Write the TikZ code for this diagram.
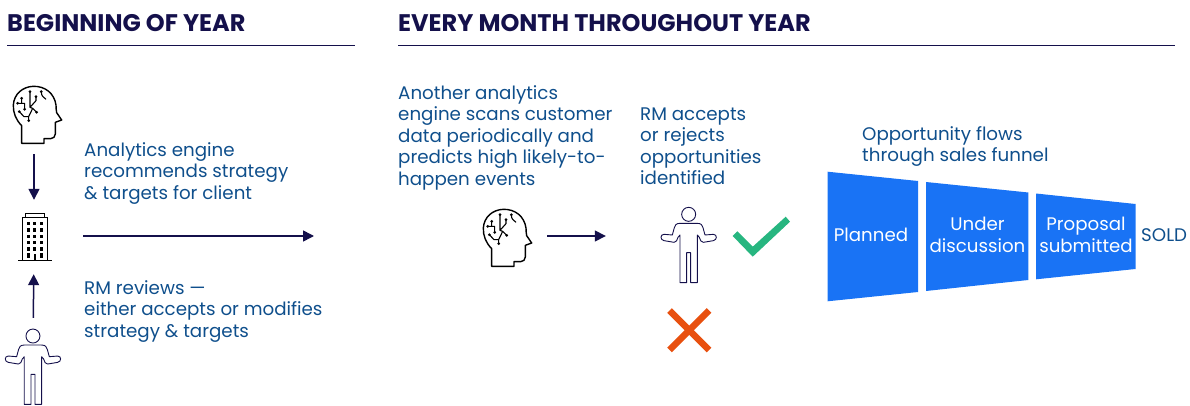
\documentclass[tikz,border=0pt]{standalone}
\usepackage{fontspec}
\setmainfont{Poppins}
\usetikzlibrary{arrows.meta}
\definecolor{navy}{HTML}{14104B}
\definecolor{bodyblue}{HTML}{0F4F8C}
\definecolor{funnelblue}{HTML}{1973F5}
\definecolor{okgreen}{HTML}{27B680}
\definecolor{noorange}{HTML}{E8500F}
\tikzset{
  x=1pt,y=-1pt,
  heading/.style={anchor=base west,inner sep=0,text=navy,font=\fontsize{24}{28}\selectfont\bfseries},
  rule/.style={draw=navy,line width=1pt},
  conn/.style={draw=navy,line width=1.5pt,-{Triangle[length=11pt,width=11pt]},shorten <=0pt,shorten >=0pt},
  bodytext/.style={anchor=north west,inner sep=0,align=left,text=bodyblue,font=\fontsize{18.25}{21.5}\selectfont},
  funneltext/.style={inner sep=0,align=center,text=white,font=\fontsize{18.2}{22}\selectfont},
  iconbox/.style={inner sep=0,draw=none},
  pics/headicon/.style={code={
    \begin{scope}[x=.3333pt,y=-.3333pt,line width=1.4pt,draw=black,line join=round]
      \draw (65,220) -- (65,167) .. controls (48,150) and (39,128) .. (40,105)
        .. controls (42,72) and (68,50) .. (100,49)
        .. controls (135,48) and (163,70) .. (168,105)
        .. controls (169,115) and (168,122) .. (170,128)
        -- (185,150) -- (166,157) -- (166,192)
        .. controls (166,200) and (160,206) .. (152,206) -- (132,206) -- (132,220) -- cycle;
      \draw[line width=1.1pt] (90,65) -- (90,112) -- (108,92) -- (108,80)
        (65,85) -- (65,100) -- (74,100) -- (74,118)
        (53,100) -- (65,100)
        (58,125) -- (72,140) -- (86,140) -- (98,115) -- (110,127)
        (86,152) -- (86,140)
        (90,112) -- (98,115)
        (124,65) .. controls (124,78) and (130,82) .. (138,88);
      \foreach \p in {(90,65),(65,85),(53,100),(74,118),(58,125),(86,152),(110,127),(124,65),(108,80)}
        \fill \p circle (4.5);
    \end{scope}}},
  pics/personicon/.style={code={
    \begin{scope}[x=.3333pt,y=-.3333pt,line width=.9pt,draw=navy,line join=round]
      \draw (146,73) circle (21);
      \draw (120,100) .. controls (108,100) and (105,106) .. (103,113) -- (97,135)
        -- (72,133) .. controls (60,133) and (60,150) .. (72,152) -- (102,157)
        .. controls (108,158) and (112,150) .. (114,142) -- (120,135)
        -- (120,278) -- (140,278) -- (140,188) -- (152,188) -- (152,278) -- (172,278) -- (172,135)
        -- (178,142) .. controls (180,150) and (184,158) .. (190,157) -- (220,152)
        .. controls (232,150) and (232,133) .. (220,133) -- (195,135) -- (189,113)
        .. controls (187,106) and (184,100) .. (172,100) -- cycle;
    \end{scope}}}
}
\begin{document}
\begin{tikzpicture}
\useasboundingbox (0,0) rectangle (1190,406);
% headings
\node[heading] (h1) at (7,31.5) {BEGINNING OF YEAR};
\node[heading] (h2) at (398,31.5) {EVERY MONTH THROUGHOUT YEAR};
\coordinate (r1a) at (7,46); \coordinate (r1b) at (355,46);
\coordinate (r2a) at (398,46); \coordinate (r2b) at (1175,46);
\draw[rule] (r1a) -- (r1b);
\draw[rule] (r2a) -- (r2b);
% left column icons
\pic at (0,70) {headicon};
\node[iconbox,minimum width=54pt,minimum height=74pt] (head1) at (34,117) {};
\node[iconbox,minimum width=34pt,minimum height=74pt] (bldg) at (34,237) {};
\draw[line width=1pt] (18,260.7) -- (52,260.7);
\draw[line width=1pt] (22.3,260.7) -- (22.3,217.3) -- (47.7,217.3) -- (47.7,260.7);
\draw[line width=.8pt] (25.7,217.3) -- (25.7,213.5) -- (44.3,213.5) -- (44.3,217.3);
\foreach \xx in {28.3,34.7,41.3}
  \foreach \yy in {223.3,230,236.7,242.7,249}
    \fill (\xx-1.6,\yy-1.6) rectangle (\xx+1.6,\yy+1.6);
\fill (26.7,253) rectangle (29.8,257.5);
\fill (39.8,253) rectangle (42.9,257.5);
\fill (33.5,254) rectangle (36,260.7);
\pic at (-15.7,311.7) {personicon};
\node[iconbox,minimum width=56pt,minimum height=86pt] (person1) at (33,361) {};
\draw[conn] (head1) -- (bldg);
\draw[conn] (person1) -- (bldg);
\node[bodytext] (t1) at (84,142) {Analytics engine\\recommends strategy\\\& targets for client};
\node[bodytext] (t2) at (84,280) {RM reviews —\\either accepts or modifies\\strategy \& targets};
\coordinate (a1) at (83,236); \coordinate (a2) at (314,236);
\draw[conn] (a1) -- (a2);
% middle
\node[bodytext] (t3) at (398,85) {Another analytics\\engine scans customer\\data periodically and\\predicts high likely-to-\\happen events};
\pic at (470,193) {headicon};
\node[iconbox,minimum width=54pt,minimum height=60pt] (head2) at (520,236) {};
\node[iconbox,minimum width=54pt,minimum height=60pt] (person2) at (633,236) {};
\draw[conn] (head2) -- (person2);
\node[bodytext] (t4) at (640,107.5) {RM accepts\\or rejects\\opportunities\\identified};
\pic at (640,190) {personicon};
\fill[okgreen] (732.7,236) -- (737.3,231.3) -- (752.7,246.7) -- (785.7,216.7) -- (790,221.7) -- (752.7,256.7) -- cycle;
\draw[noorange,line width=6.5pt] (669.5,310.5) -- (709,350);
\draw[noorange,line width=6.5pt] (709,310.5) -- (669.5,350);
% funnel
\node[bodytext] (t5) at (862,126) {Opportunity flows\\through sales funnel};
\fill[funnelblue] (827.5,171.7) -- (918,181) -- (918,292) -- (827.5,301.3) -- cycle;
\fill[funnelblue] (926,182) -- (1028.3,192.5) -- (1028.3,280) -- (926,291) -- cycle;
\fill[funnelblue] (1036,193.5) -- (1135.5,204) -- (1135.5,269) -- (1036,279.3) -- cycle;
\node[funneltext] (f1) at (871,235) {Planned};
\node[funneltext] (f2) at (977.5,235) {Under\\discussion};
\node[funneltext] (f3) at (1086,235) {Proposal\\submitted};
\node[bodytext,anchor=west] (sold) at (1141,235) {SOLD};
\end{tikzpicture}
\end{document}
